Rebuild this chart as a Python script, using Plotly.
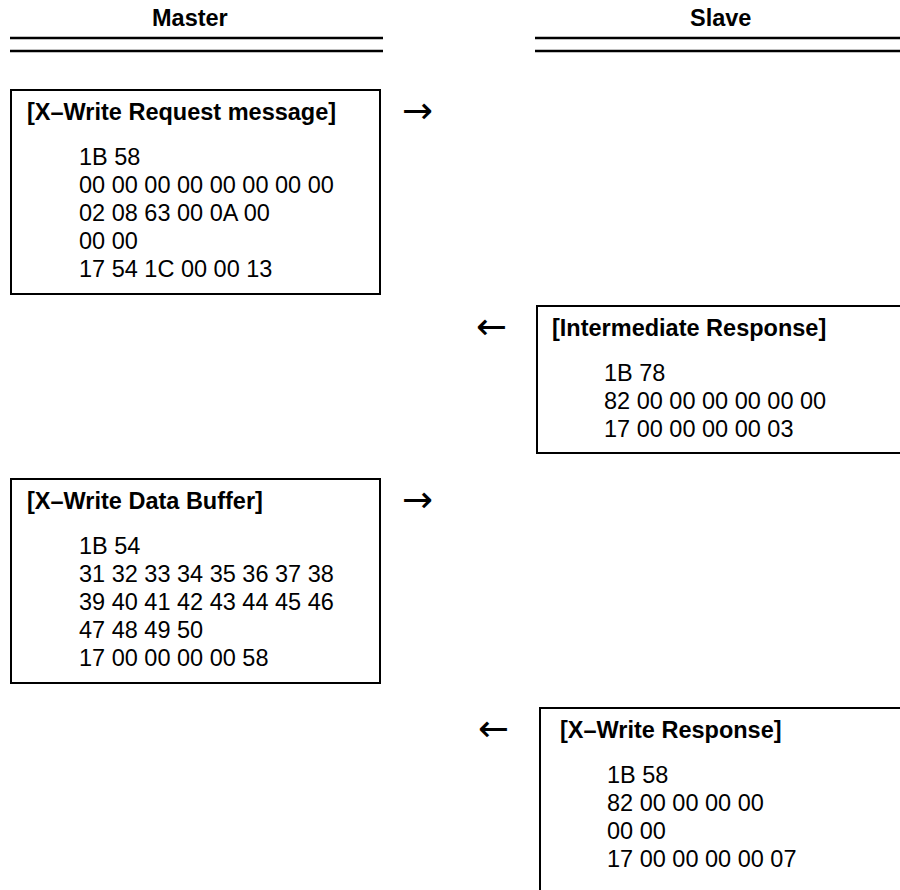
import plotly.graph_objects as go

# ---- content ----
headers = ["Master", "Slave"]
titles = ["[X–Write Request message]", "[Intermediate Response]",
          "[X–Write Data Buffer]", "[X–Write Response]"]
bodies = [
    ["1B 58", "00 00 00 00 00 00 00 00", "02 08 63 00 0A 00", "00 00", "17 54 1C 00 00 13"],
    ["1B 78", "82 00 00 00 00 00 00", "17 00 00 00 00 03"],
    ["1B 54", "31 32 33 34 35 36 37 38", "39 40 41 42 43 44 45 46", "47 48 49 50", "17 00 00 00 00 58"],
    ["1B 58", "82 00 00 00 00", "00 00", "17 00 00 00 00 07"],
]
arrows = ["→", "←", "→", "←"]

# ---- layout (window pixels) ----
W, H = 900, 890
header_x = [190, 720]
header_y = 18
rule_x = [(10, 383), (535, 900)]
rule_y = [38, 51]
boxes = [(11, 90, 380, 294), (537, 306, 900, 453), (11, 479, 380, 683), (540, 708, 900, 890)]
# which sides are drawn (left, top, right, bottom); boxes on the right run off the page
sides = [("l", "t", "r", "b"), ("l", "t", "b"), ("l", "t", "r", "b"), ("l", "t")]
title_dx = [14, 13, 14, 18]
body_dx = [66, 65, 66, 65]
title_dy = 22
first_dy = 67
pitch = 28
arrow_x = [417, 491, 417, 493]

FONT = "Liberation Sans, Arial, Helvetica, sans-serif"
FS = 23.5

fig = go.Figure()
fig.add_trace(go.Scatter(x=[0, W], y=[0, H], mode="markers",
                         marker=dict(opacity=0), hoverinfo="skip", showlegend=False))

shapes = []
annotations = []


def seg(x0, y0, x1, y1, w=2):
    return dict(type="line", x0=x0, y0=y0, x1=x1, y1=y1, xref="x", yref="y",
                line=dict(color="black", width=w))


for name, hx in zip(headers, header_x):
    annotations.append(dict(x=hx, y=header_y, text=f"<b>{name}</b>", showarrow=False,
                            xanchor="center", yanchor="middle",
                            font=dict(family=FONT, size=FS, color="black")))
for (x0, x1) in rule_x:
    for ry in rule_y:
        shapes.append(seg(x0, ry, x1, ry, 2.5))

for i, (x0, y0, x1, y1) in enumerate(boxes):
    s = sides[i]
    if "l" in s:
        shapes.append(seg(x0, y0 - 1, x0, y1 + 1))
    if "r" in s:
        shapes.append(seg(x1, y0 - 1, x1, y1 + 1))
    if "t" in s:
        shapes.append(seg(x0 - 1, y0, x1 + 1, y0))
    if "b" in s:
        shapes.append(seg(x0 - 1, y1, x1 + 1, y1))
    ty = y0 + title_dy
    annotations.append(dict(x=x0 + title_dx[i], y=ty, text=f"<b>{titles[i]}</b>", showarrow=False,
                            xanchor="left", yanchor="middle",
                            font=dict(family=FONT, size=FS, color="black")))
    for j, line in enumerate(bodies[i]):
        annotations.append(dict(x=x0 + body_dx[i], y=y0 + first_dy + j * pitch, text=line,
                                showarrow=False, xanchor="left", yanchor="middle",
                                font=dict(family=FONT, size=FS, color="black")))
    annotations.append(dict(x=arrow_x[i], y=ty - 2, text=arrows[i], showarrow=False,
                            xanchor="center", yanchor="middle",
                            font=dict(family="DejaVu Sans", size=37, color="black")))

fig.update_layout(
    width=W, height=H, margin=dict(l=0, r=0, t=0, b=0),
    paper_bgcolor="white", plot_bgcolor="white",
    xaxis=dict(range=[0, W], visible=False, fixedrange=True),
    yaxis=dict(range=[H, 0], visible=False, fixedrange=True),
    shapes=shapes, annotations=annotations, showlegend=False,
)
fig.write_html("out.html", config={"displayModeBar": False},
               post_script="document.body.style.margin='0';document.body.style.overflow='hidden';")
